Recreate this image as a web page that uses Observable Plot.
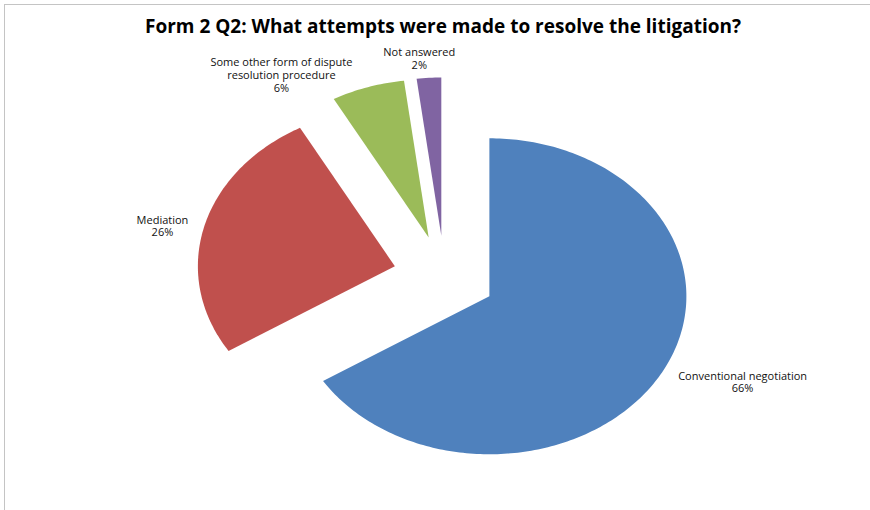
<!DOCTYPE html>
<html><head><meta charset="utf-8">
<script src="https://cdn.jsdelivr.net/npm/d3@7"></script>
<script src="https://cdn.jsdelivr.net/npm/@observablehq/plot@0.6"></script>
<style>
body{margin:0;background:#fff;}
#wrap{position:relative;width:870px;height:510px;overflow:hidden;background:#fff;}
#frame{position:absolute;left:4px;top:4px;width:900px;height:600px;border-top:1px solid #c4c4c4;border-left:1px solid #c4c4c4;}
#title{position:absolute;left:0;width:886px;top:13px;text-align:center;font:bold 19px "Open Sans", "Liberation Sans", sans-serif;line-height:normal;color:#000;white-space:nowrap;}
#chart{position:absolute;left:0;top:0;}
</style></head><body>
<div id="wrap"><div id="frame"></div><div id="chart"></div><div id="title"></div></div>
<script>
const titleText = "Form 2 Q2: What attempts were made to resolve the litigation?";
const categories = ["Conventional negotiation", "Mediation", "Some other form of dispute\nresolution procedure", "Not answered"];
const values = [66, 26, 6, 2];
const percentLabels = ["66%", "26%", "6%", "2%"];
const colors = ["#4F81BD", "#C0504D", "#9BBB59", "#8064A2"];
const explode = 0.26;
const labelAngles = [113.8, 282.6, 327.0, 354.7];
const labelRadii = [1.654, 1.467, 1.520, 1.386];

document.getElementById("title").textContent = titleText;

const arcs = d3.pie().sort(null).value(d => d)(values);
const pts = [];
arcs.forEach((a, i) => {
  const mid = (a.startAngle + a.endAngle) / 2;
  const ox = explode * Math.sin(mid), oy = explode * Math.cos(mid);
  const name = categories[i];
  pts.push({name, x: ox, y: oy});
  const n = Math.max(4, Math.ceil((a.endAngle - a.startAngle) * 180 / Math.PI));
  for (let k = 0; k <= n; k++) {
    const t = a.startAngle + (a.endAngle - a.startAngle) * k / n;
    pts.push({name, x: ox + Math.sin(t), y: oy + Math.cos(t)});
  }
  pts.push({name, x: ox, y: oy});
});
const labels = categories.map((c, i) => {
  const t = labelAngles[i] * Math.PI / 180;
  return {text: c + "\n" + percentLabels[i], x: labelRadii[i] * Math.sin(t), y: labelRadii[i] * Math.cos(t)};
});

const chart = Plot.plot({
  width: 870, height: 510,
  marginLeft: 247, marginRight: 229, marginTop: 118, marginBottom: 76,
  x: {domain: [-1, 1], axis: null},
  y: {domain: [-1, 1], axis: null},
  color: {domain: categories, range: colors},
  style: {background: "transparent", overflow: "visible"},
  marks: [
    Plot.line(pts, {x: "x", y: "y", z: "name", fill: "name", stroke: null, curve: "linear"}),
    Plot.text(labels, {x: "x", y: "y", text: "text", fontSize: 11, lineHeight: 1.15, fill: "#111", fontFamily: "Open Sans"})
  ]
});
document.getElementById("chart").appendChild(chart);
</script>
</body></html>
